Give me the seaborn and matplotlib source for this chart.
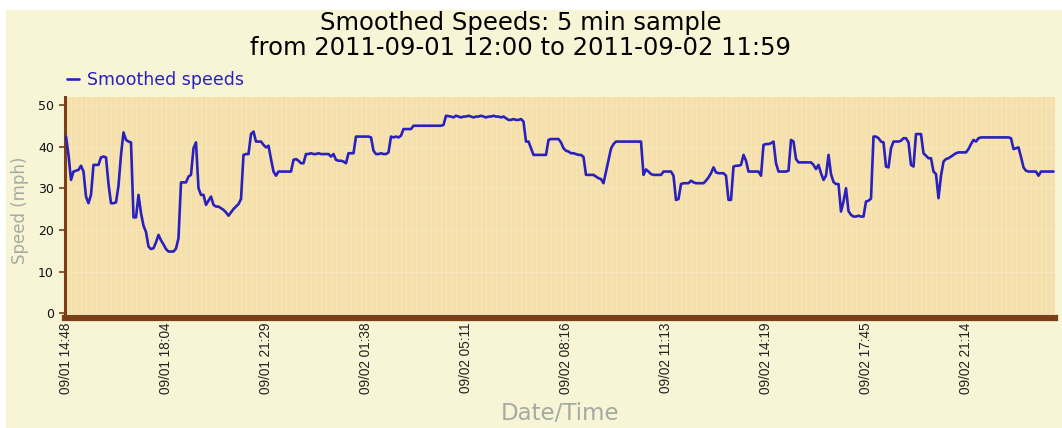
import numpy as np
import pandas as pd
import seaborn as sns
import matplotlib.pyplot as plt
from matplotlib.patches import Rectangle

# smoothed speed (mph), one value per 5 min sample
speeds = [
    42.4, 38, 32, 34, 34.2, 34.4, 35.4, 34, 28, 26.4,
    28.4, 35.6, 35.6, 35.6, 37.4, 37.6, 37.4, 31, 26.4, 26.4,
    26.6, 30.6, 38, 43.4, 41.6, 41.2, 41, 23, 23, 28.4,
    24, 21, 19.5, 16, 15.4, 15.6, 17, 18.8, 17.5, 16.5,
    15.4, 14.8, 14.8, 14.8, 15.5, 18, 31.4, 31.4, 31.4, 32.8,
    33.2, 39.6, 41, 30, 28.4, 28.4, 26, 27, 28, 26,
    25.6, 25.6, 25.2, 24.8, 24.2, 23.4, 24.2, 25, 25.6, 26.2,
    27.4, 38, 38.2, 38.2, 43, 43.6, 41.2, 41.2, 41.2, 40.4,
    39.8, 40.2, 37, 34, 33, 34, 34, 34, 34, 34,
    34, 36.8, 37, 36.6, 36, 36, 38.2, 38.2, 38.4, 38.2,
    38.2, 38.4, 38.2, 38.2, 38.2, 38.2, 37.6, 38.2, 36.8, 36.6,
    36.6, 36.4, 36, 38.4, 38.4, 38.4, 42.4, 42.4, 42.4, 42.4,
    42.4, 42.4, 42.2, 39, 38.2, 38.2, 38.4, 38.2, 38.2, 38.6,
    42.4, 42.2, 42.4, 42.2, 42.6, 44.2, 44.2, 44.2, 44.2, 45,
    45, 45, 45, 45, 45, 45, 45, 45, 45, 45,
    45, 45.2, 47.4, 47.3, 47.2, 47.0, 47.4, 47.2, 47.0, 47.2,
    47.2, 47.4, 47.2, 47.0, 47.2, 47.2, 47.4, 47.2, 47.0, 47.2,
    47.2, 47.4, 47.2, 47.2, 47.0, 47.2, 46.8, 46.4, 46.4, 46.6,
    46.4, 46.4, 46.6, 46, 41.2, 41.2, 39.6, 38, 38, 38,
    38, 38, 38, 41.6, 41.8, 41.8, 41.8, 41.8, 41, 39.6,
    39, 38.8, 38.4, 38.4, 38.2, 38, 38, 37.5, 33.2, 33.2,
    33.2, 33.2, 32.8, 32.4, 32.2, 31.2, 34, 36.8, 39.5, 40.6,
    41.2, 41.2, 41.2, 41.2, 41.2, 41.2, 41.2, 41.2, 41.2, 41.2,
    41.2, 33.2, 34.5, 34, 33.4, 33.2, 33.2, 33.2, 33.2, 34,
    34, 34, 34, 33, 27.2, 27.4, 31, 31.2, 31.2, 31.2,
    31.8, 31.4, 31.2, 31.2, 31.2, 31.2, 31.8, 32.6, 33.6, 35,
    33.8, 33.6, 33.6, 33.6, 33, 27.2, 27.2, 35.2, 35.4, 35.4,
    35.6, 38, 36.6, 34, 34, 34, 34, 34, 33, 40.4,
    40.6, 40.6, 40.8, 41.2, 36, 34, 34, 34, 34, 34.2,
    41.6, 41.2, 37, 36.2, 36.2, 36.2, 36.2, 36.2, 36.2, 35.6,
    34.6, 35.6, 33.6, 32, 33, 38, 33.4, 31.5, 31, 31,
    24.4, 26.8, 30, 24.5, 23.6, 23.2, 23.2, 23.4, 23.2, 23.2,
    26.8, 27, 27.5, 42.4, 42.4, 42, 41.2, 41, 35.2, 35,
    39.6, 41.2, 41.2, 41.2, 41.4, 42, 42, 41, 35.6, 35.2,
    43, 43, 43, 38.4, 37.8, 37.2, 37.2, 34, 33.4, 27.6,
    33, 36.4, 37, 37.2, 37.6, 38, 38.4, 38.6, 38.6, 38.6,
    38.6, 39.4, 40.6, 41.6, 41.2, 42, 42.2, 42.2, 42.2, 42.2,
    42.2, 42.2, 42.2, 42.2, 42.2, 42.2, 42.2, 42.2, 42, 39.4,
    39.6, 39.8, 37.5, 35, 34.2, 34, 34, 34, 34, 33,
    34, 34, 34, 34, 34, 34,
]

tick_labels = ["09/01 14:48", "09/01 18:04", "09/01 21:29", "09/02 01:38",
               "09/02 05:11", "09/02 08:16", "09/02 11:13", "09/02 14:19",
               "09/02 17:45", "09/02 21:14"]
tick_step = 40  # samples between labelled ticks

df = pd.DataFrame({'sample': np.arange(len(speeds)), 'speed': speeds})

sns.set_theme(style='white')
plt.rcParams['font.family'] = ['DejaVu Sans']

cream = '#F7F5D6'
plot_bg = '#F5E0AB'
stripe = '#F7E7BE'
brown = '#7A3F16'
blue = '#2A20BE'
gray = '#A4ABA2'

fig = plt.figure(figsize=(10.62, 4.28), dpi=100, facecolor='white')
fig.patches.append(Rectangle((6 / 1062, 0), 1, 418 / 428, transform=fig.transFigure,
                             facecolor=cream, edgecolor='none', zorder=-10))
ax = fig.add_axes([65 / 1062, 114 / 428, 990 / 1062, 217 / 428])
ax.set_facecolor(plot_bg)

# faint vertical stripes and horizontal grid
ax.vlines(np.arange(0, len(speeds), 2), 0, 1, transform=ax.get_xaxis_transform(),
          colors=stripe, linewidth=0.7, zorder=0.5)
for yv in [10, 20, 30, 40, 50]:
    ax.axhline(yv, color=stripe, linewidth=0.8, zorder=0.6)

sns.lineplot(data=df, x='sample', y='speed', ax=ax, color=blue, linewidth=1.9,
             label='Smoothed speeds', zorder=3)

ax.set_xlim(-0.4, len(speeds) - 0.4)
ax.set_ylim(-0.2, 51.9)
ax.set_yticks([0, 10, 20, 30, 40, 50])
ax.set_xticks(np.arange(0, len(tick_labels) * tick_step, tick_step), tick_labels)
ax.tick_params(axis='x', length=0, pad=3, labelrotation=90, labelsize=9.8,
               labelcolor='#222222', labelfontfamily='Liberation Sans')
ax.tick_params(axis='y', length=4, width=1.2, color=brown, labelsize=9,
               labelcolor='#111111', pad=4, left=True)

for s in ['top', 'right']:
    ax.spines[s].set_visible(False)
ax.spines['left'].set_color(brown)
ax.spines['left'].set_linewidth(2.2)
ax.spines['bottom'].set_color(brown)
ax.spines['bottom'].set_linewidth(4.5)
ax.spines['bottom'].set_position(('outward', 3))

ax.set_ylabel('Speed (mph)', fontsize=12, color=gray)
ax.yaxis.set_label_coords(-0.036, 0.48)
ax.set_xlabel('Date/Time', fontsize=16.5, color=gray)
ax.xaxis.set_label_coords(0.5, -0.405)

ax.legend(loc='lower left', bbox_to_anchor=(-0.0015, 1.02), frameon=False,
          handlelength=0.7, handletextpad=0.45, borderaxespad=0, borderpad=0.2,
          fontsize=12.5, labelcolor=blue)

fig.text(521 / 1062, 1 - 11 / 428,
         'Smoothed Speeds: 5 min sample\nfrom 2011-09-01 12:00 to 2011-09-02 11:59',
         ha='center', va='top', fontsize=17.5, color='black', linespacing=1.05)

plt.savefig('out.png', dpi=100, facecolor='white')
plt.close('all')
